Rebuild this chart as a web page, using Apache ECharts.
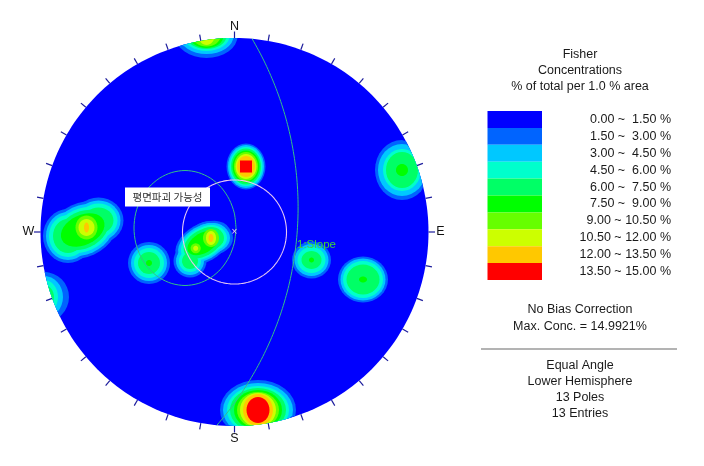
<!DOCTYPE html>
<html><head><meta charset="utf-8">
<style>html,body{margin:0;padding:0;background:#fff}#c{width:704px;height:466px}</style>
<script src="https://cdn.jsdelivr.net/npm/echarts@6/dist/echarts.min.js"></script>
</head><body><div id="c"></div>
<script>
// Legend
const rangeLabels = ['0.00 ~  1.50 %','1.50 ~  3.00 %','3.00 ~  4.50 %','4.50 ~  6.00 %','6.00 ~  7.50 %','7.50 ~  9.00 %','9.00 ~ 10.50 %','10.50 ~ 12.00 %','12.00 ~ 13.50 %','13.50 ~ 15.00 %'];
const bandWidths = [1.5,1.5,1.5,1.5,1.5,1.5,1.5,1.5,1.5,1.5];
const bandColors = ['#0000ff','#0064ff','#00c8ff','#00ffcc','#00ff66','#00ff00','#66ff00','#ccff00','#ffc800','#ff0000'];
const titleLines = ['Fisher','Concentrations','% of total per 1.0 % area'];
const infoLines = ['No Bias Correction','Max. Conc. = 14.9921%'];
const projectionLines = ['Equal Angle','Lower Hemisphere','13 Poles','13 Entries'];

// Contour patches: [x, y, first band, rx per band, ry per band, sides of last ring, tilt]
const contourPatches = [
  [-28,196,1,[31,27,23,20,17,14,8],[22,18,15,13,12,10.5,9]],
  [11.5,65.5,1,[19.5,18,16.5,15,13.5,12,10.5,9,8.5],[23,21.5,19.5,18,16,14.5,12.5,10.5,8.5],4],
  [167.5,62,1,[27,24,19,16,6],[30,26,21,18,6]],
  [-85.5,-31,1,[21,18,15,11,3],[21,18,15,11,3]],
  [77,-28,1,[19.5,17,14,10,2.5],[18.5,16,13,9,2.5]],
  [128.5,-47.5,1,[25,22.5,20,16.5,4],[23,21,18.5,15,3]],
  [-190.5,-65,1,[25,19,14,10],[25,21,17,12]],
  // west cluster
  [-151.8,2,1,[36,33,30,27,23],[27,24.5,21.5,18.5,15],0,25],
  [-166.5,-4,1,[25,22,19,15],[27,24,21,17]],
  [-136,11.5,1,[25,22,19,15],[23,20,17,13]],
  [-148,4.5,6,[11,8,2.5],[12,8.5,5]],
  // central cluster
  [-31.5,-11,1,[30,27,24,21,17],[19,17,15,13,10],0,30],
  [-23.5,-6,1,[22,19,16,13],[17,15,13,11]],
  [-44.5,-29,1,[16.5,14,11,8],[16.5,14,11,8]],
  [-23.5,-6,6,[8,5,2.5],[9,7,4]],
  [-38.8,-16.3,6,[5,2.5],[5,2.5]],
  // south
  [23.5,-178,1,[38,35,31,28,24,21,18,15,11.5],[30,27,24,22,20,18,17,16,13]]
];

// Net furniture
const netRadius = [194];
const frictionCircle = [52];
const slopePlane = [95.2, 54.3]; // dip direction, dip
const tickAngles = [0,10,20,30,40,50,60,70,80,90,100,110,120,130,140,150,160,170,180,190,200,210,220,230,240,250,260,270,280,290,300,310,320,330,340,350];
const compass = [['N',0,205.5],['E',206,0],['S',0,-207],['W',-206,0]];
const daylightEnvelope = [[1.5,4],[-0.2,18.9],[-5.3,32.75],[-13.4,44.7],[-24,53.8],[-36.3,59.5],[-49.5,61.5],[-62.7,59.5],[-75,53.8],[-85.6,44.7],[-93.7,32.75],[-98.8,18.9],[-100.5,4],[-98.8,-10.9],[-93.7,-24.75],[-85.6,-36.7],[-75,-45.8],[-62.7,-51.5],[-49.5,-53.5],[-36.3,-51.5],[-24,-45.8],[-13.4,-36.7],[-5.3,-24.75],[-0.2,-10.9],[1.5,4]];

const R = netRadius[0];
const rings = [];
for (let lv = 1; lv <= 9; lv++) {
  contourPatches.forEach(p => {
    const i = lv - p[2];
    if (i >= 0 && i < p[3].length) {
      const last = i === p[3].length - 1 && p[5];
      rings.push([lv, p[0], p[1], p[3][i], p[4][i], last ? p[5] : 32, p[6] || 0]);
    }
  });
}
function clipToNet(x, y) {
  const d = Math.hypot(x, y);
  return d > R ? [x * R / d, y * R / d] : [x, y];
}
function ringShape(api, cx, cy, rx, ry, n, tilt) {
  const rot = n === 4 ? Math.PI / 4 : 0, t = tilt * Math.PI / 180;
  const pts = [];
  for (let k = 0; k < n; k++) {
    const a = rot + k / n * 2 * Math.PI;
    const u = rx * Math.cos(a), v = ry * Math.sin(a);
    pts.push(api.coord(clipToNet(cx + u * Math.cos(t) - v * Math.sin(t), cy + u * Math.sin(t) + v * Math.cos(t))));
  }
  return pts;
}
function circlePoints(api, r) {
  const pts = [];
  for (let k = 0; k < 240; k++) {
    const a = k / 240 * 2 * Math.PI;
    pts.push(api.coord([r * Math.cos(a), r * Math.sin(a)]));
  }
  return pts;
}
function planeArc(api, dipDir, dip) {
  const dd = dipDir * Math.PI / 180, d = dip * Math.PI / 180;
  const rc = R / Math.cos(d), off = R * Math.tan(d);
  const half = Math.PI / 2 - d, pts = [];
  for (let k = 0; k <= 120; k++) {
    const a = -half + k / 120 * 2 * half;
    const along = -off + rc * Math.cos(a), across = rc * Math.sin(a);
    pts.push(api.coord([along * Math.sin(dd) + across * Math.cos(dd), along * Math.cos(dd) - across * Math.sin(dd)]));
  }
  return pts;
}

const chart = echarts.init(document.getElementById('c'), null, {renderer:'canvas'});
const FONT = '"Liberation Sans", Arial, sans-serif';
const textBlock = (lines, ys) => lines.map((t,i) => ({
  type:'text', silent:true,
  style:{text:t, x:580, y:ys[i], fill:'#1a1a1a', font:'12.5px '+FONT, align:'center', verticalAlign:'middle'}
}));
const labelSeries = (items, z, label) => ({
  type:'scatter', xAxisIndex:0, yAxisIndex:0, symbolSize:0, silent:true, z, clip:false,
  itemStyle:{opacity:1},
  data:items,
  label:Object.assign({show:true, position:'inside', formatter:'{b}', opacity:1, fontFamily:FONT}, label)
});

chart.setOption({
  animation:false,
  backgroundColor:'#ffffff',
  tooltip:{show:false},
  grid:[
    {left:40.5, top:38, width:388, height:388},
    {left:487.5, top:111, width:54.5, height:169}
  ],
  xAxis:[
    {gridIndex:0, type:'value', min:-R, max:R, show:false},
    {gridIndex:1, type:'value', min:0, max:1.5, show:false}
  ],
  yAxis:[
    {gridIndex:0, type:'value', min:-R, max:R, show:false},
    {gridIndex:1, type:'category', data:rangeLabels, inverse:true, position:'right',
     axisLine:{show:false}, axisTick:{show:false},
     axisLabel:{align:'right', margin:129, color:'#1a1a1a', fontSize:12.5, fontFamily:FONT}}
  ],
  graphic:[
    ...textBlock(titleLines,[55,71,87]),
    ...textBlock(infoLines,[310,326.5]),
    {type:'line', silent:true, shape:{x1:481,y1:349,x2:677,y2:349}, style:{stroke:'#9a9a9a', lineWidth:1.5}},
    ...textBlock(projectionLines,[366,382,398,414])
  ],
  series:[
    {type:'bar', xAxisIndex:1, yAxisIndex:1, barWidth:'100%', silent:true,
     data:bandWidths.map((v,i)=>({value:v, itemStyle:{color:bandColors[i]}}))},
    // base disc
    {type:'custom', xAxisIndex:0, yAxisIndex:0, clip:false, silent:true, z:2, data:[netRadius],
     encode:{x:0,y:0},
     renderItem:(p,api)=>({type:'polygon', shape:{points:circlePoints(api,api.value(0))}, style:{fill:bandColors[0]}})},
    // rim ticks
    {type:'custom', xAxisIndex:0, yAxisIndex:0, clip:false, silent:true, z:2, data:tickAngles.map(a=>[a]),
     encode:{x:0,y:0},
     renderItem:(p,api)=>{
       const a = api.value(0)*Math.PI/180;
       const s = api.coord([R*Math.sin(a),R*Math.cos(a)]), e = api.coord([(R+6.5)*Math.sin(a),(R+6.5)*Math.cos(a)]);
       return {type:'line', shape:{x1:s[0],y1:s[1],x2:e[0],y2:e[1]}, style:{stroke:'#1c1c9c', lineWidth:1.2}};
     }},
    // contour bands
    {type:'custom', xAxisIndex:0, yAxisIndex:0, clip:false, silent:true, z:3, data:rings,
     encode:{x:1,y:2},
     renderItem:(p,api)=>({type:'polygon',
       shape:{points:ringShape(api,api.value(1),api.value(2),api.value(3),api.value(4),api.value(5),api.value(6))},
       style:{fill:bandColors[api.value(0)]}})},
    // slope plane
    {type:'custom', xAxisIndex:0, yAxisIndex:0, clip:false, silent:true, z:4, data:[slopePlane],
     encode:{x:0,y:1},
     renderItem:(p,api)=>({type:'polyline', shape:{points:planeArc(api,api.value(0),api.value(1))},
       style:{fill:'none', stroke:'#35c088', lineWidth:1}})},
    {type:'line', xAxisIndex:0, yAxisIndex:0, data:daylightEnvelope, smooth:0.3, symbol:'none', silent:true, z:4,
     lineStyle:{color:'#35c088', width:1}},
    // friction circle
    {type:'custom', xAxisIndex:0, yAxisIndex:0, clip:false, silent:true, z:4, data:[frictionCircle],
     encode:{x:0,y:0},
     renderItem:(p,api)=>({type:'polygon', shape:{points:circlePoints(api,api.value(0))},
       style:{fill:'none', stroke:'#e6c8f2', lineWidth:1.1}})},
    // labels
    labelSeries(compass.map(c=>({value:[c[1],c[2]], name:c[0]})), 6, {color:'#111', fontSize:12.5}),
    labelSeries([{value:[0,-0.5], name:'×'}], 6, {color:'#e6c8f2', fontSize:10}),
    labelSeries([{value:[82,-13], name:'1:Slope'}], 6, {color:'#3ed63a', fontSize:11.5}),
    labelSeries([{value:[-67,35], name:'평면파괴 가능성'}], 7, {color:'#333', fontSize:10.5,
      fontFamily:'"Noto Sans CJK KR", sans-serif',
      backgroundColor:'#ffffff', width:85, height:19, lineHeight:19, align:'center', verticalAlign:'middle'})
  ]
});
</script></body></html>
